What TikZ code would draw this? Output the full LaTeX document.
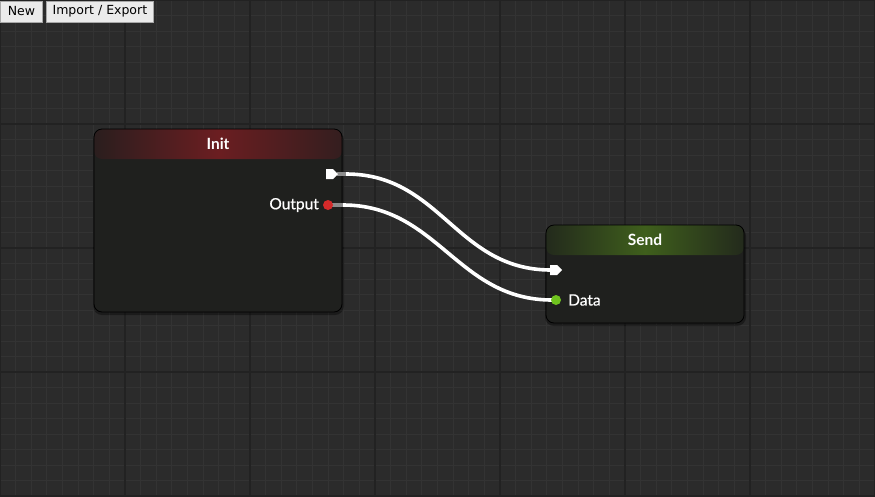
\documentclass[tikz,border=0pt]{standalone}
\usepackage{fontspec}
\setmainfont{Lato}
\newfontfamily\btnfont{DejaVu Sans}
\newfontfamily\lblfont[FakeBold=0.7]{Lato}
\usetikzlibrary{calc}
\definecolor{bg}{HTML}{2B2B2B}
\definecolor{minorc}{HTML}{333333}
\definecolor{majorc}{HTML}{222222}
\definecolor{bodyc}{HTML}{1F201E}
\definecolor{initred}{HTML}{6B1E21}
\definecolor{initedge}{HTML}{2A1E1E}
\definecolor{sendgreen}{HTML}{3F5F1C}
\definecolor{sendedge}{HTML}{232A1C}
\definecolor{btnfill}{HTML}{EBEBEB}
\definecolor{btnborder}{HTML}{A8A8A8}
\definecolor{reddot}{HTML}{D42A2A}
\definecolor{greendot}{HTML}{6FC21E}
\definecolor{stubc}{HTML}{8C8C8C}
\tikzset{
  nodebox/.style={draw=black, line width=0.8pt, fill=bodyc, rounded corners=8pt,
    inner sep=0pt, outer sep=0pt},
  shadowbox/.style={fill=black, opacity=0.35, rounded corners=9pt},
  titletext/.style={text=white, font=\bfseries\fontsize{15.5}{18}\selectfont, inner sep=0pt},
  labeltext/.style={text=white, font=\lblfont\fontsize{15.5}{18}\selectfont, inner sep=0pt},
  btn/.style={draw=btnborder, fill=btnfill, line width=0.8pt, inner sep=0pt,
    minimum height=21pt, font=\btnfont\fontsize{12.5}{15}\selectfont, text=black},
  wire/.style={draw=white, line width=3.6pt},
  stub/.style={draw=stubc, line width=3.6pt},
  portpt/.style={inner sep=0pt, outer sep=0pt, minimum size=0pt}
}
\begin{document}
\begin{tikzpicture}[x=1pt,y=-1pt]
\fill[bg] (0,0) rectangle (875,496);
\useasboundingbox (0,0) rectangle (875,496);
% grid
\foreach \i in {0,...,56} {\draw[minorc, line width=1pt] (\i*15.625,0) -- (\i*15.625,496);}
\foreach \j in {0,...,32} {\draw[minorc, line width=1pt] (0,\j*15.5) -- (875,\j*15.5);}
\foreach \i in {0,...,7} {\draw[majorc, line width=1.4pt] (\i*125,0) -- (\i*125,496);}
\foreach \j in {0,...,4} {\draw[majorc, line width=1.4pt] (0,\j*124) -- (875,\j*124);}

% buttons
\node[btn, anchor=north west, minimum width=42pt] (newbtn) at (0,0.5) {\raisebox{-1pt}{New}};
\node[btn, anchor=north west, minimum width=107pt] (iebtn) at (46,0.5) {\raisebox{-1pt}{Import / Export}};

% shadows
\fill[shadowbox] (93,131) rectangle (344,315);
\fill[shadowbox] (545,227) rectangle (746,326);

% Init node
\node[nodebox, minimum width=248pt, minimum height=183pt,
  path picture={\shade[left color=initedge, right color=initedge!85!initred, middle color=initred]
    (path picture bounding box.north west) rectangle ([yshift=-30pt]path picture bounding box.north east);}]
  (init) at (218,220.5) {};
\node[titletext] (initT) at (218,144) {Init};
\node[labeltext, anchor=east] (outL) at (319,205) {Output};

% Send node
\node[nodebox, minimum width=198pt, minimum height=98pt,
  path picture={\shade[left color=sendedge, right color=sendedge, middle color=sendgreen]
    (path picture bounding box.north west) rectangle ([yshift=-30pt]path picture bounding box.north east);}]
  (send) at (645,274) {};
\node[titletext] (sendT) at (645,240) {Send};
\node[labeltext, anchor=west] (dataL) at (568,300) {Data};

% port anchors
\node[portpt] (initExec) at (337,174) {};
\node[portpt] (initOut) at (332,205) {};
\node[portpt] (initExecS) at (346,174) {};
\node[portpt] (initOutS) at (343,205) {};
\node[portpt] (sendExec) at (551,270) {};
\node[portpt] (sendData) at (552,300) {};

% wires
\draw[wire] (initExecS.center) .. controls +(95,0) and +(-95,0) .. (sendExec.center);
\draw[wire] (initOutS.center) .. controls +(95,0) and +(-95,0) .. (sendData.center);
\draw[stub] (initExec.center) -- (initExecS.center);
\draw[stub] (initOut.center) -- (initOutS.center);

% ports
\fill[white] (326,169) -- (333,169) -- (338,174) -- (333,179) -- (326,179) -- cycle;
\fill[white] (550,265) -- (557,265) -- (562,270) -- (557,275) -- (550,275) -- cycle;
\fill[reddot] (328,205) circle (5);
\fill[greendot] (556,300) circle (5);
\end{tikzpicture}
\end{document}
